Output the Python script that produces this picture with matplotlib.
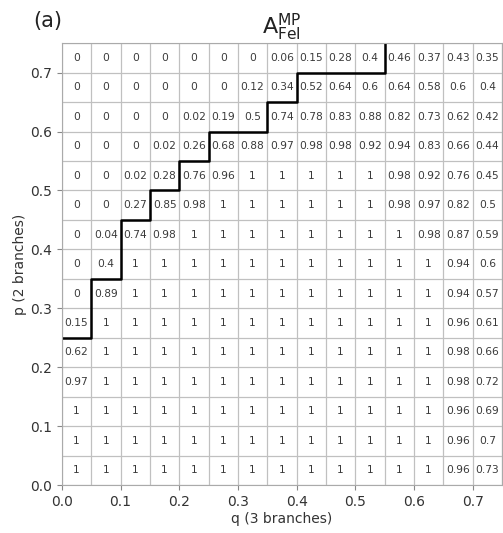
import numpy as np
import matplotlib.pyplot as plt

plt.rcParams['mathtext.default'] = 'regular'

# cell values, rows from top (p=0.70-0.75) to bottom (p=0.00-0.05)
vals = [
    [0, 0, 0, 0, 0, 0, 0, 0.06, 0.15, 0.28, 0.4, 0.46, 0.37, 0.43, 0.35],
    [0, 0, 0, 0, 0, 0, 0.12, 0.34, 0.52, 0.64, 0.6, 0.64, 0.58, 0.6, 0.4],
    [0, 0, 0, 0, 0.02, 0.19, 0.5, 0.74, 0.78, 0.83, 0.88, 0.82, 0.73, 0.62, 0.42],
    [0, 0, 0, 0.02, 0.26, 0.68, 0.88, 0.97, 0.98, 0.98, 0.92, 0.94, 0.83, 0.66, 0.44],
    [0, 0, 0.02, 0.28, 0.76, 0.96, 1, 1, 1, 1, 1, 0.98, 0.92, 0.76, 0.45],
    [0, 0, 0.27, 0.85, 0.98, 1, 1, 1, 1, 1, 1, 0.98, 0.97, 0.82, 0.5],
    [0, 0.04, 0.74, 0.98, 1, 1, 1, 1, 1, 1, 1, 1, 0.98, 0.87, 0.59],
    [0, 0.4, 1, 1, 1, 1, 1, 1, 1, 1, 1, 1, 1, 0.94, 0.6],
    [0, 0.89, 1, 1, 1, 1, 1, 1, 1, 1, 1, 1, 1, 0.94, 0.57],
    [0.15, 1, 1, 1, 1, 1, 1, 1, 1, 1, 1, 1, 1, 0.96, 0.61],
    [0.62, 1, 1, 1, 1, 1, 1, 1, 1, 1, 1, 1, 1, 0.98, 0.66],
    [0.97, 1, 1, 1, 1, 1, 1, 1, 1, 1, 1, 1, 1, 0.98, 0.72],
    [1, 1, 1, 1, 1, 1, 1, 1, 1, 1, 1, 1, 1, 0.96, 0.69],
    [1, 1, 1, 1, 1, 1, 1, 1, 1, 1, 1, 1, 1, 0.96, 0.7],
    [1, 1, 1, 1, 1, 1, 1, 1, 1, 1, 1, 1, 1, 0.96, 0.73],
]

# staircase boundary (steps-post)
bound_q = [0.0, 0.05, 0.1, 0.15, 0.2, 0.25, 0.35, 0.4, 0.55]
bound_p = [0.25, 0.35, 0.45, 0.5, 0.55, 0.6, 0.65, 0.7, 0.75]

dq = 0.05
n = len(vals)

fig = plt.figure(figsize=(5.03, 5.33), dpi=100)
ax = fig.add_axes([0.123, 0.09, 0.875, 0.829])

for i, row in enumerate(vals):
    p = (n - 1 - i) * dq + dq / 2
    for j, v in enumerate(row):
        q = j * dq + dq / 2
        ax.text(q, p, '{:g}'.format(v), ha='center', va='center',
                fontsize=7.7, color='#3a3a3a')

ax.plot(bound_q, bound_p, drawstyle='steps-post', color='black', lw=1.8)

ax.set_xlim(0, 0.75)
ax.set_ylim(0, 0.75)
ax.set_xticks(np.arange(0, 0.71, 0.1))
ax.set_yticks(np.arange(0, 0.71, 0.1))
ax.set_xticks(np.arange(0, 0.76, dq), minor=True)
ax.set_yticks(np.arange(0, 0.76, dq), minor=True)
ax.tick_params(which='minor', length=0)
ax.tick_params(which='major', color='#888888', labelsize=10, labelcolor='#333333')
ax.grid(which='both', color='#c0c0c0', lw=0.9)
ax.set_axisbelow(True)
for s in ax.spines.values():
    s.set_color('#aaaaaa')

ax.set_xlabel('q (3 branches)', fontsize=10, color='#333333', labelpad=2)
ax.set_ylabel('p (2 branches)', fontsize=10, color='#333333', labelpad=2)
ax.set_title(r'$A^{MP}_{Fel}$', fontsize=16, color='#222222', pad=6)
fig.text(0.066, 0.96, '(a)', fontsize=15, color='#222222', va='center')

fig.savefig('out.png', dpi=100)
